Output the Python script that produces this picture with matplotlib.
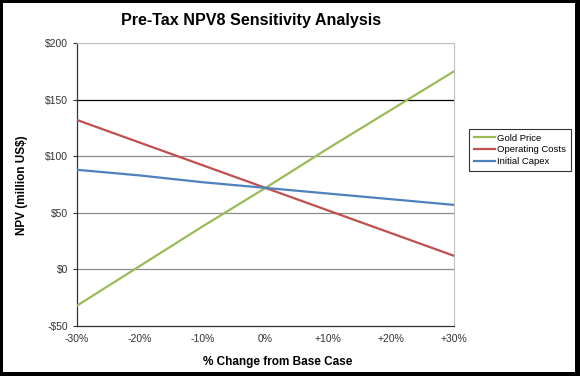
import matplotlib
matplotlib.use("Agg")
import matplotlib.pyplot as plt
from matplotlib.patches import Rectangle

plt.rcParams['font.family'] = ['Liberation Sans', 'DejaVu Sans']

x_pct = [-30, -20, -10, 0, 10, 20, 30]
x_labels = ['-30%', '-20%', '-10%', '0%', '+10%', '+20%', '+30%']
gold_price = [-32, 3, 38, 72, 107, 141, 175]
operating_costs = [132, 112, 92, 72, 52, 32, 12]
initial_capex = [88, 83, 77, 72, 67, 62, 57]
y_ticks = [-50, 0, 50, 100, 150, 200]
y_labels = ['-$50', '$0', '$50', '$100', '$150', '$200']

W, H = 580, 376
fig = plt.figure(figsize=(W / 100, H / 100), dpi=100)
ax = fig.add_axes([77 / W, 1 - 326 / H, (454 - 77) / W, (326 - 43) / H])

ax.set_xlim(-30, 30)
ax.set_ylim(-50, 200)
for yv in y_ticks[1:]:
    col = '#000000' if yv == 150 else '#8c8c8c'
    if yv == 200:
        col = '#c0c0c0'
    ax.axhline(yv, color=col, lw=0.9, zorder=1)

ax.plot(x_pct, gold_price, color='#9BBB59', lw=1.6, label='Gold Price', zorder=3)
ax.plot(x_pct, operating_costs, color='#C0504D', lw=1.6, label='Operating Costs', zorder=3)
ax.plot(x_pct, initial_capex, color='#4F81BD', lw=1.6, label='Initial Capex', zorder=3)

ax.set_xticks(x_pct)
ax.set_xticklabels(x_labels)
ax.set_yticks(y_ticks)
ax.set_yticklabels(y_labels)
ax.tick_params(axis='both', labelsize=7.5, colors='#333333', length=3, width=0.8)
ax.tick_params(axis='x', length=0, pad=6)
for s in ['top', 'right']:
    ax.spines[s].set_color('#c0c0c0')
    ax.spines[s].set_linewidth(0.8)
for s in ['left', 'bottom']:
    ax.spines[s].set_color('#333333')
    ax.spines[s].set_linewidth(0.9)

fig.text(278 / W, 1 - 362 / H, '% Change from Base Case', ha='center', va='center',
         fontsize=8.5, fontweight='bold')
fig.text(22 / W, 1 - 185 / H, 'NPV (million US$)', ha='center', va='center',
         fontsize=8.5, fontweight='bold', rotation=90)
fig.text(251 / W, 1 - 20 / H, 'Pre-Tax NPV8 Sensitivity Analysis', ha='center', va='center',
         fontsize=11.6, fontweight='bold')

leg = ax.legend(loc='center left', bbox_to_anchor=((469 - 77) / 377, (326 - 150) / 283),
                fontsize=6.8, frameon=True, fancybox=False, handlelength=2.2,
                handletextpad=0.3, borderpad=0.5, labelspacing=0.3, borderaxespad=0)
leg.get_frame().set_edgecolor('#000000')
leg.get_frame().set_linewidth(0.8)

# outer border frame
def band(x0, y0, w, h):
    fig.patches.append(Rectangle((x0 / W, 1 - (y0 + h) / H), w / W, h / H,
                                 transform=fig.transFigure, facecolor='black',
                                 edgecolor='none', zorder=10))
band(0, 0, 3, H)
band(0, 0, W, 3)
band(W - 5, 0, 5, H)
band(0, H - 4, W, 4)

fig.savefig('out.png', dpi=100)
